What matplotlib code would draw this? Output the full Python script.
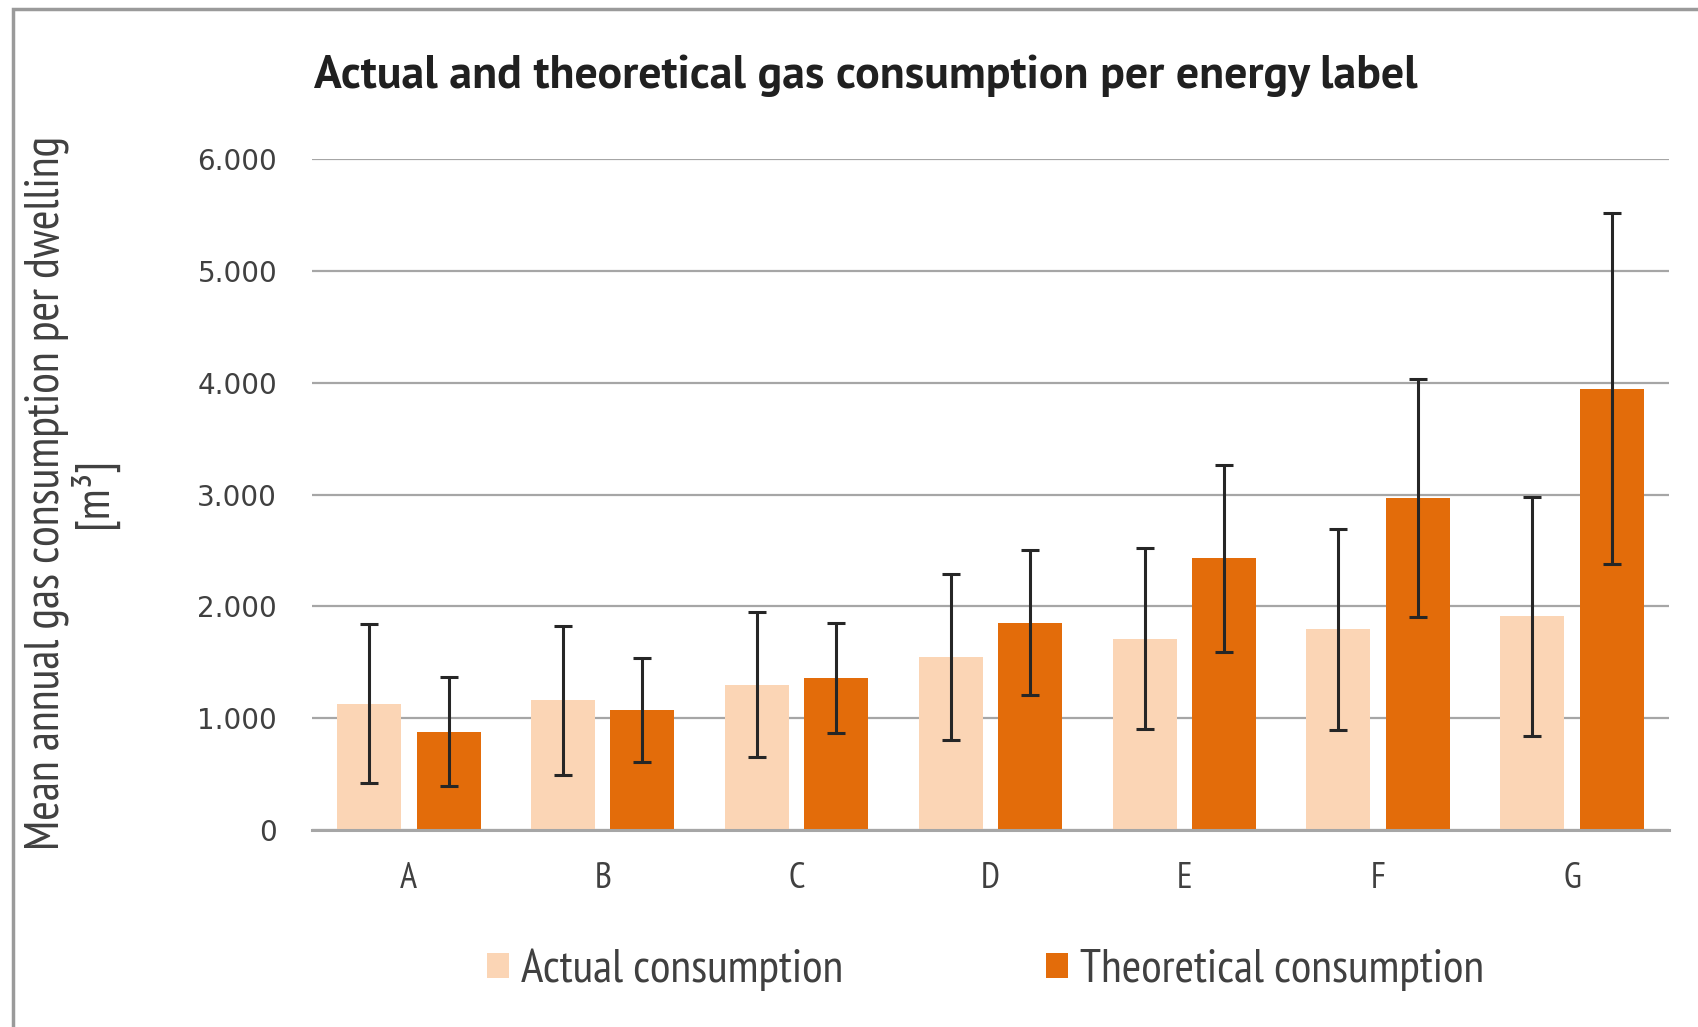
import numpy as np
import matplotlib
matplotlib.use("Agg")
import matplotlib.pyplot as plt
from matplotlib.patches import Rectangle

# values (m3 per dwelling, mean and spread)
labels = ["A", "B", "C", "D", "E", "F", "G"]
actual_mean = [1130, 1160, 1300, 1545, 1710, 1795, 1910]
actual_err = [710, 665, 645, 740, 810, 900, 1070]
theo_mean = [880, 1070, 1360, 1855, 2430, 2970, 3945]
theo_err = [485, 465, 490, 645, 835, 1065, 1570]

LIGHT_C, DARK_C = "#fbd5b5", "#e36c0a"
GRID_C = "#a6a6a6"
NARROW = ["PT Sans Narrow", "Cabin Condensed", "DejaVu Sans"]
WIDE = ["PT Sans", "PT Sans Narrow", "DejaVu Sans"]

fig = plt.figure(figsize=(16.99, 10.27), dpi=100)
ax = fig.add_axes([0.1836, 0.1918, 0.7987, 0.6534])

x = np.arange(len(labels))
w, off = 0.33, 0.205
ekw = dict(ecolor="#262626", elinewidth=2.2, capsize=6.5, capthick=2.2)
ax.bar(x - off, actual_mean, w, yerr=actual_err, color=LIGHT_C,
       label="Actual consumption", error_kw=ekw, zorder=2)
ax.bar(x + off, theo_mean, w, yerr=theo_err, color=DARK_C,
       label="Theoretical consumption", error_kw=ekw, zorder=2)

ax.set_xlim(-0.5, len(labels) - 0.5)
ax.set_ylim(0, 6000)
ax.set_yticks(np.arange(0, 6001, 1000))
ax.set_yticklabels(["0"] + [f"{v // 1000}.000" for v in range(1000, 6001, 1000)],
                   fontsize=20, color="#404040")
ax.set_xticks(x)
ax.set_xticklabels(labels, fontsize=26, color="#404040", family=NARROW)
ax.tick_params(axis="both", length=0)
ax.tick_params(axis="y", pad=25)
ax.tick_params(axis="x", pad=23)
for s in ("top", "right", "left"):
    ax.spines[s].set_visible(False)
ax.spines["bottom"].set_color(GRID_C)
ax.spines["bottom"].set_linewidth(2.2)
ax.yaxis.grid(True, color=GRID_C, lw=1.6)
ax.set_axisbelow(True)

fig.text(0.042, 1 - 493 / 1027, "Mean annual gas consumption per dwelling\n[m³]",
         rotation=90, ha="center", va="center", multialignment="center",
         fontsize=34.3, color="#404040", family=NARROW, linespacing=1.0)

fig.text(0.185, 1 - 76 / 1027, "Actual and theoretical gas consumption per energy label",
         ha="left", va="center", fontsize=33, fontweight="bold", color="#202020",
         family=WIDE)

fig.legend(loc="center", bbox_to_anchor=(0.580, 1 - 970 / 1027), ncol=2,
           frameon=False, handlelength=0.46, handleheight=0.46,
           handletextpad=0.25, columnspacing=4.3, prop={"family": NARROW, "size": 34},
           labelcolor="#404040")

# outer chart frame (runs off the right and bottom edges)
fig.patches.append(Rectangle((13 / 1699, -0.05), 1.2, 1 - 9 / 1027 + 0.05,
                             transform=fig.transFigure, fill=False,
                             edgecolor="#9a9a9a", lw=2.5))

fig.savefig("out.png", dpi=100)
